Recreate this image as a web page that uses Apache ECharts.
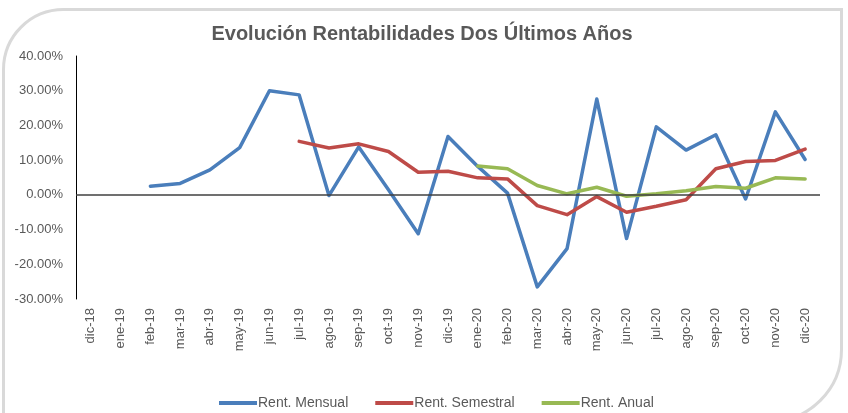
<!DOCTYPE html>
<html>
<head>
<meta charset="utf-8">
<script src="https://cdn.jsdelivr.net/npm/echarts@6/dist/echarts.min.js"></script>
<style>
  html, body { margin: 0; padding: 0; background: #fff; }
  #chart { width: 848px; height: 413px; }
</style>
</head>
<body>
<div id="chart"></div>
<script>
/* Category labels (months) */
const MONTHS = [
  "dic-18", "ene-19", "feb-19", "mar-19", "abr-19", "may-19", "jun-19",
  "jul-19", "ago-19", "sep-19", "oct-19", "nov-19", "dic-19", "ene-20",
  "feb-20", "mar-20", "abr-20", "may-20", "jun-20", "jul-20", "ago-20",
  "sep-20", "oct-20", "nov-20", "dic-20",
];

/* Returns in percent, null where the series has no value yet */
const RENT_MENSUAL = [
  null, null, 2.5, 3.3, 7.2, 13.6, 30.0, 28.8, -0.2, 13.8, 1.5, -11.2, 16.8,
  8.2, 0.5, -26.5, -15.5, 27.6, -12.6, 19.6, 12.9, 17.3, -1.2, 23.9, 10.2,
];
const RENT_SEMESTRAL = [
  null, null, null, null, null, null, null, 15.4, 13.5, 14.7, 12.5, 6.5, 6.8,
  4.9, 4.6, -3.1, -5.7, -0.5, -5.0, -3.3, -1.4, 7.5, 9.6, 9.9, 13.2,
];
const RENT_ANUAL = [
  null, null, null, null, null, null, null, null, null, null, null, null, null,
  8.3, 7.5, 2.7, 0.3, 2.2, -0.4, 0.3, 1.2, 2.4, 1.9, 4.9, 4.6,
];

const Y_MIN = -30;
const Y_MAX = 40;
const Y_STEP = 10;

const TEXT_COLOR = "#595959";
const FONT = "'Liberation Sans', Arial, sans-serif";

const chart = echarts.init(document.getElementById("chart"), null, { renderer: "canvas" });

function lineSeries(name, data, color) {
  return {
    name: name,
    type: "line",
    data: data,
    showSymbol: false,
    symbol: "none",
    connectNulls: false,
    lineStyle: { color: color, width: 3.5, cap: "round", join: "round" },
    itemStyle: { color: color },
    animation: false,
  };
}

const series = [
  lineSeries("Rent. Mensual", RENT_MENSUAL, "#4a7ebb"),
  lineSeries("Rent. Semestral", RENT_SEMESTRAL, "#be4b48"),
  lineSeries("Rent. Anual", RENT_ANUAL, "#98b954"),
];

/* zero line drawn as a mark line, the x axis labels sit at the bottom */
series[0].markLine = {
  silent: true,
  symbol: "none",
  label: { show: false },
  lineStyle: { color: "#404040", width: 1.5, type: "solid" },
  data: [{ yAxis: 0 }],
};
series[0].z = 3;

chart.setOption({
  animation: false,
  backgroundColor: "#fff",
  textStyle: { fontFamily: FONT },
  graphic: [
    {
      type: "rect",
      left: 1,
      top: 7,
      shape: { width: 838, height: 412, r: [60, 0, 72, 0] },
      style: { fill: "none", stroke: "#d9d9d9", lineWidth: 3 },
      silent: true,
      z: -1,
    },
  ],
  title: {
    text: "Evolución Rentabilidades Dos Últimos Años",
    left: 417,
    textAlign: "center",
    top: 19,
    textStyle: { color: TEXT_COLOR, fontSize: 20, fontWeight: "bold", fontFamily: FONT },
  },
  legend: {
    top: 391,
    left: 214,
    itemWidth: 38,
    itemHeight: 4,
    itemGap: 27,
    icon: "rect",
    textStyle: { color: TEXT_COLOR, fontSize: 14, padding: [0, 0, 0, -4] },
    data: ["Rent. Mensual", "Rent. Semestral", "Rent. Anual"],
  },
  grid: { left: 76, right: 28, top: 56, bottom: 114, containLabel: false },
  xAxis: {
    type: "category",
    data: MONTHS,
    boundaryGap: true,
    axisLine: { show: false },
    axisTick: { show: false },
    axisLabel: {
      rotate: 90,
      color: TEXT_COLOR,
      fontSize: 13,
      margin: 9,
      interval: 0,
    },
  },
  yAxis: {
    type: "value",
    min: Y_MIN,
    max: Y_MAX,
    interval: Y_STEP,
    axisLine: { show: true, lineStyle: { color: "#000", width: 1 } },
    axisTick: { show: false },
    splitLine: { show: false },
    axisLabel: {
      color: TEXT_COLOR,
      fontSize: 13,
      margin: 13,
      formatter: function (v) { return v.toFixed(2) + "%"; },
    },
  },
  series: series,
});
</script>
</body>
</html>
